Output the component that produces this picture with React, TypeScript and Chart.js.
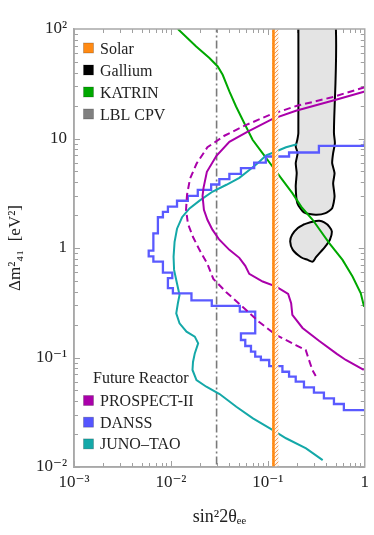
import React, { useEffect, useRef } from "react";
import { Chart, registerables } from "chart.js";

Chart.register(...registerables);

// ---------- axes ----------
const xTickValues = [0.001, 0.01, 0.1, 1];
const xTickLabels = ["10⁻³", "10⁻²", "10⁻¹", "1"];
const yTickValues = [0.01, 0.1, 1, 10, 100];
const yTickLabels = ["10⁻²", "10⁻¹", "1", "10", "10²"];
const xTitle = "sin²2θₑₑ";
const yTitle = "Δm²₄₁  [eV²]";

// ---------- data ----------
const solarX = 0.1143;
const solarBandX = [0.1108, 0.1285];
const lblCpvX = 0.0296;
const verticalSpanY = [0.001, 1000];

const galliumUpperX = [0.2065, 0.2065, 0.2015, 0.194, 0.203, 0.194, 0.1986, 0.194, 0.2015, 0.236, 0.311, 0.394, 0.461, 0.488, 0.472, 0.488, 0.461, 0.472, 0.492, 0.481, 0.481, 0.2065];
const galliumUpperY = [150, 11.2, 9.73, 8.45, 7.36, 5.96, 4.83, 3.64, 2.57, 2.11, 2.01, 2.08, 2.31, 2.95, 3.91, 4.83, 5.96, 7.36, 9.08, 11.2, 150, 150];

const galliumLowerX = [0.238, 0.290, 0.340, 0.382, 0.430, 0.458, 0.437, 0.391, 0.353, 0.314, 0.290, 0.258, 0.220, 0.181, 0.170, 0.178, 0.204, 0.238];
const galliumLowerY = [1.65, 1.74, 1.77, 1.71, 1.57, 1.41, 1.19, 1.03, 0.927, 0.824, 0.751, 0.778, 0.824, 0.961, 1.15, 1.32, 1.52, 1.65];

const katrinX = [0.0118, 0.01823, 0.02495, 0.0304, 0.0342, 0.0401, 0.0470, 0.0572, 0.0696, 0.0881, 0.1117, 0.1414, 0.179, 0.2253, 0.290, 0.430, 0.590, 0.748, 0.910, 0.984];
const katrinY = [100, 69.3, 54.3, 45.5, 38.2, 26.9, 19.6, 13.8, 9.73, 7.36, 5.55, 4.19, 3.17, 2.33, 1.81, 1.11, 0.778, 0.548, 0.386, 0.291];

const prospectX = [1.0, 0.463, 0.195, 0.112, 0.0614, 0.0401, 0.0295, 0.0235, 0.0217, 0.0212, 0.0219, 0.0238, 0.0268, 0.0316, 0.0401, 0.0508, 0.0585, 0.0643, 0.0885, 0.122, 0.162, 0.174, 0.179, 0.228, 0.337, 0.515, 0.638, 0.977];
const prospectY = [26.9, 22.1, 17.9, 15.1, 11.5, 9.33, 6.95, 4.96, 3.54, 2.99, 2.23, 1.81, 1.47, 1.19, 0.962, 0.813, 0.687, 0.581, 0.494, 0.444, 0.380, 0.313, 0.245, 0.186, 0.142, 0.108, 0.0949, 0.0769];

const prospectDashX = [1.0, 0.458, 0.200, 0.1057, 0.0599, 0.0356, 0.0238, 0.01836, 0.01574, 0.01466, 0.01432, 0.0150, 0.0169, 0.0197, 0.0238, 0.0274, 0.0370, 0.0548, 0.0815, 0.121, 0.194, 0.246, 0.266, 0.288, 0.312];
const prospectDashY = [29.4, 23.8, 19.9, 16.5, 13.3, 10.6, 8.32, 5.88, 4.29, 3.06, 2.23, 1.66, 1.26, 0.962, 0.717, 0.522, 0.397, 0.291, 0.211, 0.161, 0.130, 0.117, 0.0949, 0.0769, 0.0678];

const danssX = [1, 0.3365, 0.1656, 0.0953, 0.0723, 0.0528, 0.0401, 0.0316, 0.0260, 0.01893, 0.01494, 0.01156, 0.00931, 0.00827, 0.00734, 0.00659, 0.00590, 0.00659, 0.00827, 0.01033, 0.00931, 0.01048, 0.01629, 0.0264, 0.0514, 0.0741, 0.0528, 0.0585, 0.0670, 0.0741, 0.0848, 0.1033, 0.1414, 0.1656, 0.194, 0.236, 0.299, 0.379, 0.481, 0.609, 0.771, 1];
const danssY = [9.53, 8.58, 7.45, 6.85, 6.03, 5.36, 4.75, 4.25, 3.80, 3.40, 2.99, 2.70, 2.39, 2.14, 1.91, 1.36, 0.946, 0.838, 0.751, 0.596, 0.530, 0.430, 0.385, 0.332, 0.296, 0.262, 0.166, 0.1445, 0.1274, 0.113, 0.1017, 0.0949, 0.0835, 0.0741, 0.0668, 0.0601, 0.0534, 0.0477, 0.0424, 0.0376, 0.0331, 0.0331];

const junoX = [0.200, 0.154, 0.116, 0.0961, 0.0796, 0.0659, 0.0508, 0.0374, 0.0270, 0.0199, 0.01556, 0.01303, 0.01156, 0.01091, 0.01065, 0.01078, 0.01135, 0.01227, 0.01180, 0.01135, 0.01227, 0.01449, 0.01763, 0.01910, 0.01763, 0.0169, 0.0167, 0.01836, 0.0232, 0.0318, 0.0473, 0.0702, 0.1127, 0.154, 0.248, 0.368];
const junoY = [8.85, 8.31, 7.49, 7.02, 6.00, 5.23, 4.37, 3.78, 3.28, 2.72, 2.30, 1.91, 1.50, 1.14, 0.830, 0.631, 0.511, 0.372, 0.313, 0.253, 0.205, 0.172, 0.155, 0.135, 0.109, 0.0910, 0.0769, 0.0623, 0.0541, 0.0464, 0.0355, 0.0278, 0.0217, 0.0183, 0.0148, 0.01156];

// ---------- legends ----------
const topLegendLabels = ["Solar", "Gallium", "KATRIN", "LBL CPV"];
const topLegendColors = ["#ff8a14", "#000000", "#00a800", "#808080"];
const bottomLegendTitle = "Future Reactor";
const bottomLegendLabels = ["PROSPECT-II", "DANSS", "JUNO–TAO"];
const bottomLegendColors = ["#aa00aa", "#5555ff", "#14a8a8"];

const SERIF = '"Liberation Serif", "DejaVu Serif", serif';

const pts = (xs: number[], ys: number[]) => xs.map((x, i) => ({ x, y: ys[i] }));

function labelFor(values: number[], labels: string[], v: number) {
  for (let i = 0; i < values.length; i++) {
    if (Math.abs(Math.log10(v) - Math.log10(values[i])) < 1e-6) return labels[i];
  }
  return "";
}

const framePlugin = {
  id: "frameAndLegend",
  beforeDatasetsDraw(chart: any) {
    const { ctx, chartArea: a, scales } = chart;
    const xs = scales.x;
    const ys = scales.y;
    ctx.save();
    ctx.strokeStyle = "#a0a0a0";
    ctx.lineWidth = 1;
    ctx.beginPath();
    for (let d = -3; d < 0; d++) {
      for (let m = 1; m < 10; m++) {
        const px = Math.round(xs.getPixelForValue(m * Math.pow(10, d))) + 0.5;
        const len = m === 1 ? 6 : 4;
        ctx.moveTo(px, a.bottom);
        ctx.lineTo(px, a.bottom - len);
        ctx.moveTo(px, a.top);
        ctx.lineTo(px, a.top + len);
      }
    }
    for (let d = -2; d < 2; d++) {
      for (let m = 1; m < 10; m++) {
        const py = Math.round(ys.getPixelForValue(m * Math.pow(10, d))) + 0.5;
        const len = m === 1 ? 6 : 4;
        ctx.moveTo(a.left, py);
        ctx.lineTo(a.left + len, py);
        ctx.moveTo(a.right, py);
        ctx.lineTo(a.right - len, py);
      }
    }
    ctx.stroke();
    ctx.restore();
  },
  afterDatasetsDraw(chart: any) {
    const { ctx, chartArea: a } = chart;
    ctx.save();
    ctx.strokeStyle = "#a8a8a8";
    ctx.lineWidth = 1.5;
    ctx.strokeRect(a.left, a.top, a.right - a.left, a.bottom - a.top);

    ctx.font = `16px ${SERIF}`;
    ctx.textBaseline = "alphabetic";
    ctx.textAlign = "left";
    const sx = a.left + 9.5;
    const tx = a.left + 26;
    topLegendLabels.forEach((lab, i) => {
      const base = a.top + 25 + i * 22;
      ctx.fillStyle = topLegendColors[i];
      ctx.fillRect(sx, base - 11, 10, 10);
      ctx.strokeStyle = "rgba(0,0,0,0.25)";
      ctx.lineWidth = 0.8;
      ctx.strokeRect(sx, base - 11, 10, 10);
      ctx.fillStyle = "#222";
      ctx.fillText(lab, tx, base);
    });
    ctx.fillStyle = "#222";
    ctx.fillText(bottomLegendTitle, a.left + 19, a.bottom - 84);
    bottomLegendLabels.forEach((lab, i) => {
      const base = a.bottom - 61 + i * 21.7;
      ctx.fillStyle = bottomLegendColors[i];
      ctx.fillRect(sx, base - 10.5, 10, 10);
      ctx.strokeStyle = "rgba(0,0,0,0.25)";
      ctx.lineWidth = 0.8;
      ctx.strokeRect(sx, base - 10.5, 10, 10);
      ctx.fillStyle = "#222";
      ctx.fillText(lab, tx, base);
    });
    ctx.restore();
  },
};

export default function App() {
  const ref = useRef<HTMLCanvasElement>(null);

  useEffect(() => {
    const canvas = ref.current;
    if (!canvas) return;

    const pc = document.createElement("canvas");
    pc.width = 4;
    pc.height = 4;
    const p = pc.getContext("2d")!;
    p.fillStyle = "#fff4ea";
    p.fillRect(0, 0, 4, 4);
    p.strokeStyle = "#ec9a5c";
    p.lineWidth = 1;
    p.beginPath();
    p.moveTo(0, 4);
    p.lineTo(4, 0);
    p.moveTo(-1, 1);
    p.lineTo(1, -1);
    p.moveTo(3, 5);
    p.lineTo(5, 3);
    p.stroke();
    const hatch = canvas.getContext("2d")!.createPattern(pc, "repeat");

    const base = { showLine: true, pointRadius: 0, pointHoverRadius: 0, fill: false, clip: 0, tension: 0 };

    const chart = new Chart(canvas, {
      type: "scatter",
      data: {
        datasets: [
          { ...base, label: "Solar", data: pts([solarX, solarX], verticalSpanY), borderColor: "#ff8a14", borderWidth: 2.6, order: 0 },
          {
            ...base,
            label: "Solar band",
            data: pts(
              [solarBandX[0], solarBandX[1], solarBandX[1], solarBandX[0], solarBandX[0]],
              [verticalSpanY[0], verticalSpanY[0], verticalSpanY[1], verticalSpanY[1], verticalSpanY[0]]
            ),
            borderWidth: 0,
            borderColor: "rgba(0,0,0,0)",
            backgroundColor: hatch as any,
            fill: "shape",
            order: 1,
          },
          { ...base, label: "PROSPECT-II", data: pts(prospectX, prospectY), borderColor: "#aa00aa", borderWidth: 2, order: 2 },
          { ...base, label: "PROSPECT-II (dashed)", data: pts(prospectDashX, prospectDashY), borderColor: "#aa00aa", borderWidth: 2, borderDash: [7, 4], order: 3 },
          { ...base, label: "DANSS", data: pts(danssX, danssY), borderColor: "#5a5aff", borderWidth: 2.3, stepped: "after", order: 4 },
          { ...base, label: "JUNO–TAO", data: pts(junoX, junoY), borderColor: "#14a8a8", borderWidth: 2, order: 5 },
          { ...base, label: "KATRIN", data: pts(katrinX, katrinY), borderColor: "#00a800", borderWidth: 2, order: 6 },
          { ...base, label: "LBL CPV", data: pts([lblCpvX, lblCpvX], verticalSpanY), borderColor: "#7a7a7a", borderWidth: 1.6, borderDash: [8, 3, 2, 3], order: 7 },
          { ...base, label: "Gallium", data: pts(galliumUpperX, galliumUpperY), borderColor: "#000", borderWidth: 2, backgroundColor: "#e4e4e4", fill: "shape", tension: 0.2, order: 8 },
          { ...base, label: "Gallium (2)", data: pts(galliumLowerX, galliumLowerY), borderColor: "#000", borderWidth: 2, backgroundColor: "#e4e4e4", fill: "shape", tension: 0.3, order: 9 },
        ] as any,
      },
      options: {
        responsive: false,
        animation: false,
        layout: { padding: { top: 29, right: 8, left: 0, bottom: 0 } },
        plugins: { legend: { display: false }, tooltip: { enabled: false } },
        scales: {
          x: {
            type: "logarithmic",
            min: 0.001,
            max: 1,
            grid: { display: false, drawTicks: false },
            border: { display: true, color: "#a8a8a8", width: 1.5 },
            afterBuildTicks: (s: any) => {
              s.ticks = xTickValues.map((v) => ({ value: v }));
            },
            afterFit: (s: any) => {
              s.height = 68;
            },
            ticks: {
              autoSkip: false,
              maxRotation: 0,
              padding: 5,
              color: "#222",
              font: { family: SERIF, size: 17 },
              callback: (v: any) => labelFor(xTickValues, xTickLabels, Number(v)),
            },
            title: {
              display: true,
              text: xTitle,
              color: "#222",
              font: { family: SERIF, size: 18 },
              padding: { top: 0, bottom: 7 },
            },
          },
          y: {
            type: "logarithmic",
            min: 0.01,
            max: 100,
            grid: { display: false, drawTicks: false },
            border: { display: true, color: "#a8a8a8", width: 1.5 },
            afterBuildTicks: (s: any) => {
              s.ticks = yTickValues.map((v) => ({ value: v }));
            },
            afterFit: (s: any) => {
              s.width = 74;
            },
            ticks: {
              autoSkip: false,
              padding: 7,
              color: "#222",
              font: { family: SERIF, size: 17 },
              callback: (v: any) => labelFor(yTickValues, yTickLabels, Number(v)),
            },
            title: {
              display: true,
              text: yTitle,
              color: "#222",
              font: { family: SERIF, size: 17 },
              padding: { top: 5, bottom: 0 },
            },
          },
        },
      } as any,
      plugins: [framePlugin as any],
    });

    return () => chart.destroy();
  }, []);

  return (
    <div style={{ position: "fixed", left: 0, top: 0, width: 374, height: 535, background: "#fff" }}>
      <canvas ref={ref} width={374} height={535} style={{ display: "block" }} />
    </div>
  );
}
